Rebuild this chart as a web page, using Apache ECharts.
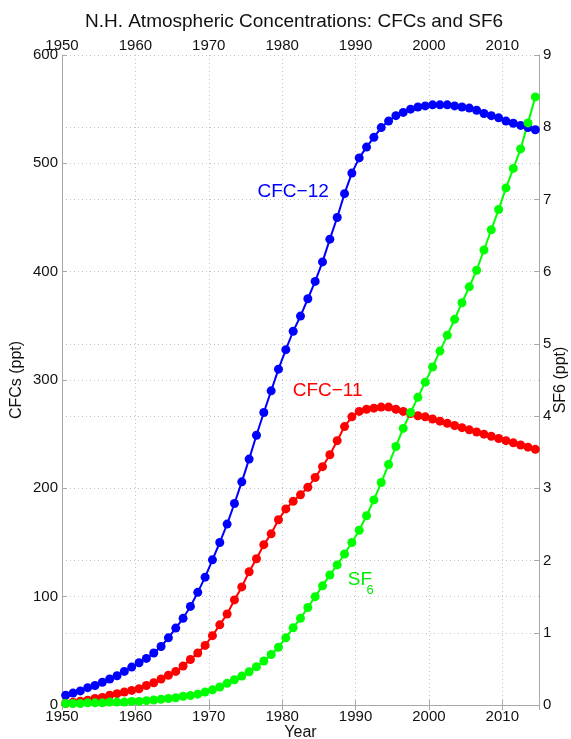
<!DOCTYPE html>
<html>
<head>
<meta charset="utf-8">
<script src="https://cdn.jsdelivr.net/npm/echarts@6/dist/echarts.min.js"></script>
<style>
  html, body { margin: 0; padding: 0; background: #fff; }
  #chart { width: 571px; height: 739px; }
</style>
</head>
<body>
<div id="chart"></div>
<script>
// annual means, plotted at mid-year
const years = []
for (let y = 1950; y <= 2014; y++) years.push(y + 0.5)

const cfc12 = [
  9, 11, 13, 16, 18, 21, 24, 27, 31, 35,
  39, 43, 48, 54, 62, 71, 80, 91, 104, 118,
  134, 150, 167, 186, 206, 227, 249, 270, 290, 310,
  328, 345, 359, 375, 391, 409, 430, 450, 472, 491,
  505, 515, 524, 533, 539, 544, 547, 550, 552, 553,
  554, 554, 554, 553, 552, 551, 549, 546, 544, 542,
  539, 537, 535, 533, 531
]

const cfc11 = [
  1.5, 2.5, 3.5, 4.5, 6, 7, 9, 10.5, 12, 13.5,
  15, 18, 20.5, 24, 27.5, 31, 36, 42, 48, 55,
  64, 74, 84, 97, 109, 123, 135, 148, 158, 171,
  181, 188, 194, 201, 210, 220, 231, 244, 257, 266,
  271, 273, 274, 275, 275, 273, 271, 269, 267, 266,
  264, 262, 260, 258, 256, 254, 252, 250, 248, 246,
  244, 242, 240, 238, 236
]

const sf6 = [
  0.02, 0.02, 0.02, 0.03, 0.03, 0.03, 0.04, 0.04, 0.04, 0.05,
  0.05, 0.06, 0.07, 0.08, 0.09, 0.10, 0.12, 0.13, 0.15, 0.18,
  0.21, 0.25, 0.30, 0.35, 0.40, 0.46, 0.53, 0.61, 0.70, 0.80,
  0.93, 1.07, 1.20, 1.35, 1.50, 1.65, 1.80, 1.94, 2.09, 2.25,
  2.42, 2.62, 2.84, 3.08, 3.33, 3.58, 3.83, 4.05, 4.26, 4.47,
  4.68, 4.90, 5.12, 5.34, 5.57, 5.79, 6.02, 6.30, 6.58, 6.86,
  7.16, 7.43, 7.70, 8.06, 8.42
]

let font = 'Liberation Sans'
let axisGrey = '#a8a8a8'
let gridGrey = '#c4c4c4'

function pairs (vals) {
  return years.map(function (y, i) { return [y, vals[i]] })
}

function xAxisOpt (pos) {
  return {
    type: 'value',
    position: pos,
    min: 1950,
    max: 2015,
    interval: 10,
    name: pos === 'bottom' ? 'Year' : '',
    nameLocation: 'middle',
    nameGap: 20,
    nameMoveOverlap: false,
    nameTextStyle: {fontFamily: font, fontSize: 16, color: '#111'},
    axisLine: {show: true, lineStyle: {color: axisGrey, width: 1}},
    axisTick: {show: true, inside: true, length: 5, lineStyle: {color: axisGrey}},
    axisLabel: {
      fontFamily: font,
      fontSize: 15,
      color: '#111',
      margin: pos === 'bottom' ? 4 : 2,
      formatter: function (v) { return v % 10 === 0 ? String(v) : '' }
    },
    splitLine: {
      show: pos === 'bottom',
      lineStyle: {color: gridGrey, type: [1, 3], width: 1}
    }
  }
}

let chart = echarts.init(document.getElementById('chart'))
let option = {
  animation: false,
  backgroundColor: '#fff',
  title: {
    text: 'N.H. Atmospheric Concentrations: CFCs and SF6',
    left: 289,
    top: 7,
    textAlign: 'center',
    textStyle: {fontFamily: font, fontSize: 19, fontWeight: 'normal', color: '#111'}
  },
  grid: {left: 62, right: 32, top: 55, bottom: 34, outerBoundsMode: 'none', containLabel: false},
  xAxis: [xAxisOpt('bottom'), xAxisOpt('top')],
  yAxis: [
    {
      type: 'value',
      position: 'left',
      min: 0,
      max: 600,
      interval: 100,
      name: 'CFCs (ppt)',
      nameLocation: 'middle',
      nameGap: 37,
      nameMoveOverlap: false,
      nameTextStyle: {fontFamily: font, fontSize: 16, color: '#111'},
      axisLine: {show: true, lineStyle: {color: axisGrey}},
      axisTick: {show: true, inside: true, length: 5, lineStyle: {color: axisGrey}},
      axisLabel: {fontFamily: font, fontSize: 15, color: '#111', margin: 4},
      splitLine: {show: true, lineStyle: {color: gridGrey, type: [1, 3]}}
    },
    {
      type: 'value',
      position: 'right',
      min: 0,
      max: 9,
      interval: 1,
      name: 'SF6 (ppt)',
      nameLocation: 'middle',
      nameGap: 14,
      nameMoveOverlap: false,
      nameTextStyle: {fontFamily: font, fontSize: 16, color: '#111'},
      axisLine: {show: true, lineStyle: {color: axisGrey}},
      axisTick: {show: true, inside: true, length: 5, lineStyle: {color: axisGrey}},
      axisLabel: {fontFamily: font, fontSize: 15, color: '#111', margin: 4},
      splitLine: {show: true, lineStyle: {color: gridGrey, type: [1, 3]}}
    }
  ],
  series: [
    {
      name: 'CFC-12',
      type: 'line',
      yAxisIndex: 0,
      data: pairs(cfc12),
      symbol: 'circle',
      symbolSize: 9,
      lineStyle: {color: '#0000ff', width: 2},
      itemStyle: {color: '#0000ff'},
      markPoint: {
        symbol: 'circle',
        symbolSize: 1,
        itemStyle: {color: 'rgba(0,0,0,0)'},
        label: {show: true, position: 'inside', fontFamily: font, fontSize: 19, color: '#0000ff'},
        data: [{coord: [1981.5, 474], value: 'CFC\u221212'}]
      }
    },
    {
      name: 'CFC-11',
      type: 'line',
      yAxisIndex: 0,
      data: pairs(cfc11),
      symbol: 'circle',
      symbolSize: 9,
      lineStyle: {color: '#ff0000', width: 2},
      itemStyle: {color: '#ff0000'},
      markPoint: {
        symbol: 'circle',
        symbolSize: 1,
        itemStyle: {color: 'rgba(0,0,0,0)'},
        label: {show: true, position: 'inside', fontFamily: font, fontSize: 19, color: '#ff0000'},
        data: [{coord: [1986.2, 290], value: 'CFC\u221211'}]
      }
    },
    {
      name: 'SF6',
      type: 'line',
      yAxisIndex: 1,
      data: pairs(sf6),
      symbol: 'circle',
      symbolSize: 9,
      lineStyle: {color: '#00ff00', width: 2},
      itemStyle: {color: '#00ff00'},
      markPoint: {
        symbol: 'circle',
        symbolSize: 1,
        itemStyle: {color: 'rgba(0,0,0,0)'},
        label: {show: true, position: 'inside', fontFamily: font, color: '#00ee00'},
        data: [
          {coord: [1990.6, 1.74], value: 'SF', label: {fontSize: 19}},
          {coord: [1992.0, 1.58], value: '6', label: {fontSize: 13}}
        ]
      }
    }
  ]
}
chart.setOption(option)
</script>
</body>
</html>
